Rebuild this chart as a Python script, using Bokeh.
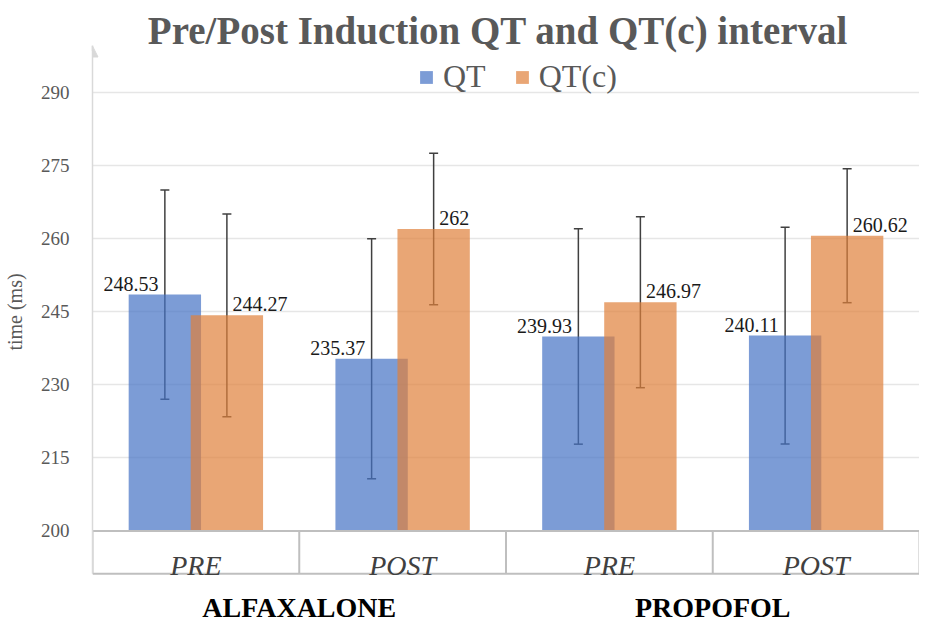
from bokeh.plotting import figure
from bokeh.models import (ColumnDataSource, FactorRange, Range1d, FixedTicker, Whisker,
                          TeeHead, Arrow, NormalHead, Label)
from bokeh.transform import dodge
from bokeh.core.properties import value
from bokeh.embed import file_html
from bokeh.resources import INLINE

# ---------------- data ----------------
groups = ["ALFAXALONE", "ALFAXALONE", "PROPOFOL", "PROPOFOL"]
phases = ["PRE", "POST", "PRE", "POST"]
series_names = ["QT", "QT(c)"]
qt_mean = [248.53, 235.37, 239.93, 240.11]
qt_sd = [21.5, 24.65, 22.1, 22.25]
qtc_mean = [244.27, 262.0, 246.97, 260.62]
qtc_sd = [20.8, 15.55, 17.55, 13.75]
y_ticks = [200, 215, 230, 245, 260, 275, 290]
title_text = "Pre/Post Induction QT and QT(c) interval"
y_label = "time (ms)"

# ---------------- styles ----------------
SERIF = "Liberation Serif"
BLUE = "#4472C4"
ORANGE = "#E0803A"
BAR_ALPHA = 0.7
GRID = "#E6E6E6"
BOX = "#BFBFBF"
AXIS = "#D9D9D9"
TEXT_GREY = "#595959"
Y_MIN, Y_MAX = 181.01, 308.91
BASE = 200
BOX_BOTTOM = 191.23
AXIS_TOP = 299.57

factors = list(zip(groups, phases))
fmt = lambda v: "{:g}".format(v)

src = ColumnDataSource(dict(
    cat=factors,
    qt=qt_mean, qtc=qtc_mean,
    qt_up=[m + s for m, s in zip(qt_mean, qt_sd)],
    qt_lo=[m - s for m, s in zip(qt_mean, qt_sd)],
    qtc_up=[m + s for m, s in zip(qtc_mean, qtc_sd)],
    qtc_lo=[m - s for m, s in zip(qtc_mean, qtc_sd)],
    qt_txt=[fmt(v) for v in qt_mean],
    qtc_txt=[fmt(v) for v in qtc_mean],
    phase=phases,
    base=[BASE] * len(phases),
    boxb=[BOX_BOTTOM] * len(phases),
))

p = figure(width=919, height=623, output_backend="svg", toolbar_location=None,
           x_range=FactorRange(*factors, factor_padding=0, group_padding=0, range_padding=0),
           y_range=Range1d(Y_MIN, Y_MAX), x_axis_location=None,
           min_border_left=90, min_border_right=0, min_border_top=0, min_border_bottom=0)
p.outline_line_color = None
p.xgrid.visible = False
p.ygrid.ticker = FixedTicker(ticks=y_ticks[1:])
p.ygrid.grid_line_color = GRID
p.ygrid.grid_line_width = 1.5

ax = p.yaxis[0]
ax.ticker = FixedTicker(ticks=y_ticks)
ax.bounds = (BOX_BOTTOM, AXIS_TOP)
ax.axis_line_color = AXIS
ax.axis_line_width = 1.5
ax.major_tick_line_color = None
ax.minor_tick_line_color = None
ax.major_label_standoff = 17
ax.major_label_text_font = SERIF
ax.major_label_text_font_size = "19px"
ax.major_label_text_color = TEXT_GREY
ax.axis_label = y_label
ax.axis_label_text_font = SERIF
ax.axis_label_text_font_style = "normal"
ax.axis_label_text_font_size = "20px"
ax.axis_label_text_color = TEXT_GREY
ax.axis_label_standoff = 12

# bars
p.vbar(x=dodge("cat", -0.15, range=p.x_range), top="qt", bottom="base", width=0.35,
       source=src, fill_color=BLUE, fill_alpha=BAR_ALPHA, line_color=None,
       legend_label=series_names[0])
p.vbar(x=dodge("cat", 0.15, range=p.x_range), top="qtc", bottom="base", width=0.35,
       source=src, fill_color=ORANGE, fill_alpha=BAR_ALPHA, line_color=None,
       legend_label=series_names[1])

# error bars
for col, off in (("qt", -0.15), ("qtc", 0.15)):
    w = Whisker(source=src, base=dodge("cat", off, range=p.x_range),
                upper=col + "_up", lower=col + "_lo", dimension="height",
                line_color="#404040", line_width=1.5,
                upper_head=TeeHead(size=9, line_color="#404040", line_width=1.5),
                lower_head=TeeHead(size=9, line_color="#404040", line_width=1.5))
    p.add_layout(w)

# value labels
p.text(x=dodge("cat", -0.181, range=p.x_range), y="qt", text="qt_txt", source=src,
       text_align="right", text_baseline="alphabetic", y_offset=-11,
       text_font=value(SERIF), text_font_size="20px", text_color="#1a1a1a")
p.text(x=dodge("cat", 0.177, range=p.x_range), y="qtc", text="qtc_txt", source=src,
       text_align="left", text_baseline="alphabetic", y_offset=-11,
       text_font=value(SERIF), text_font_size="20px", text_color="#1a1a1a")

# category box
n = len(factors)
p.segment(x0=[0, 0], x1=[n, n], y0=[BASE, BOX_BOTTOM], y1=[BASE, BOX_BOTTOM],
          line_color=BOX, line_width=2)
p.segment(x0=dodge("cat", -0.5, range=p.x_range), x1=dodge("cat", -0.5, range=p.x_range),
          y0="boxb", y1="base", source=src, line_color=BOX, line_width=2)
p.segment(x0=[n], x1=[n], y0=[BOX_BOTTOM], y1=[BASE], line_color=BOX, line_width=2)

p.text(x="cat", y=193.0, text="phase", source=src, text_align="center",
       text_baseline="alphabetic", text_font=value(SERIF), text_font_style="italic",
       text_font_size="28px", text_color="#404040")

group_names = list(dict.fromkeys(groups))
p.text(x=group_names, y=[184.35] * len(group_names), text=group_names,
       text_align="center", text_baseline="alphabetic", text_font=value(SERIF),
       text_font_style="bold", text_font_size="28px", text_color="#000000")

# axis arrow head
p.add_layout(Arrow(x_start=0, y_start=AXIS_TOP - 1, x_end=0, y_end=AXIS_TOP,
                   line_color=AXIS, line_width=1.5,
                   end=NormalHead(size=11, fill_color=AXIS, line_color=AXIS)))

# title
p.add_layout(Label(x=1.961, y=302.75, text=title_text, text_align="center",
                   text_baseline="alphabetic", text_font=SERIF, text_font_style="bold",
                   text_font_size="39px", text_color=TEXT_GREY))

# legend
lg = p.legend[0]
lg.orientation = "horizontal"
lg.location = (326, 528)
lg.label_text_font = SERIF
lg.label_text_font_size = "32px"
lg.label_text_color = TEXT_GREY
lg.glyph_width = 16
lg.glyph_height = 16
lg.label_standoff = 9
lg.spacing = 28
lg.padding = 0
lg.margin = 0
lg.border_line_color = None
lg.background_fill_alpha = 0

open("out.html", "w").write(file_html(p, INLINE))
